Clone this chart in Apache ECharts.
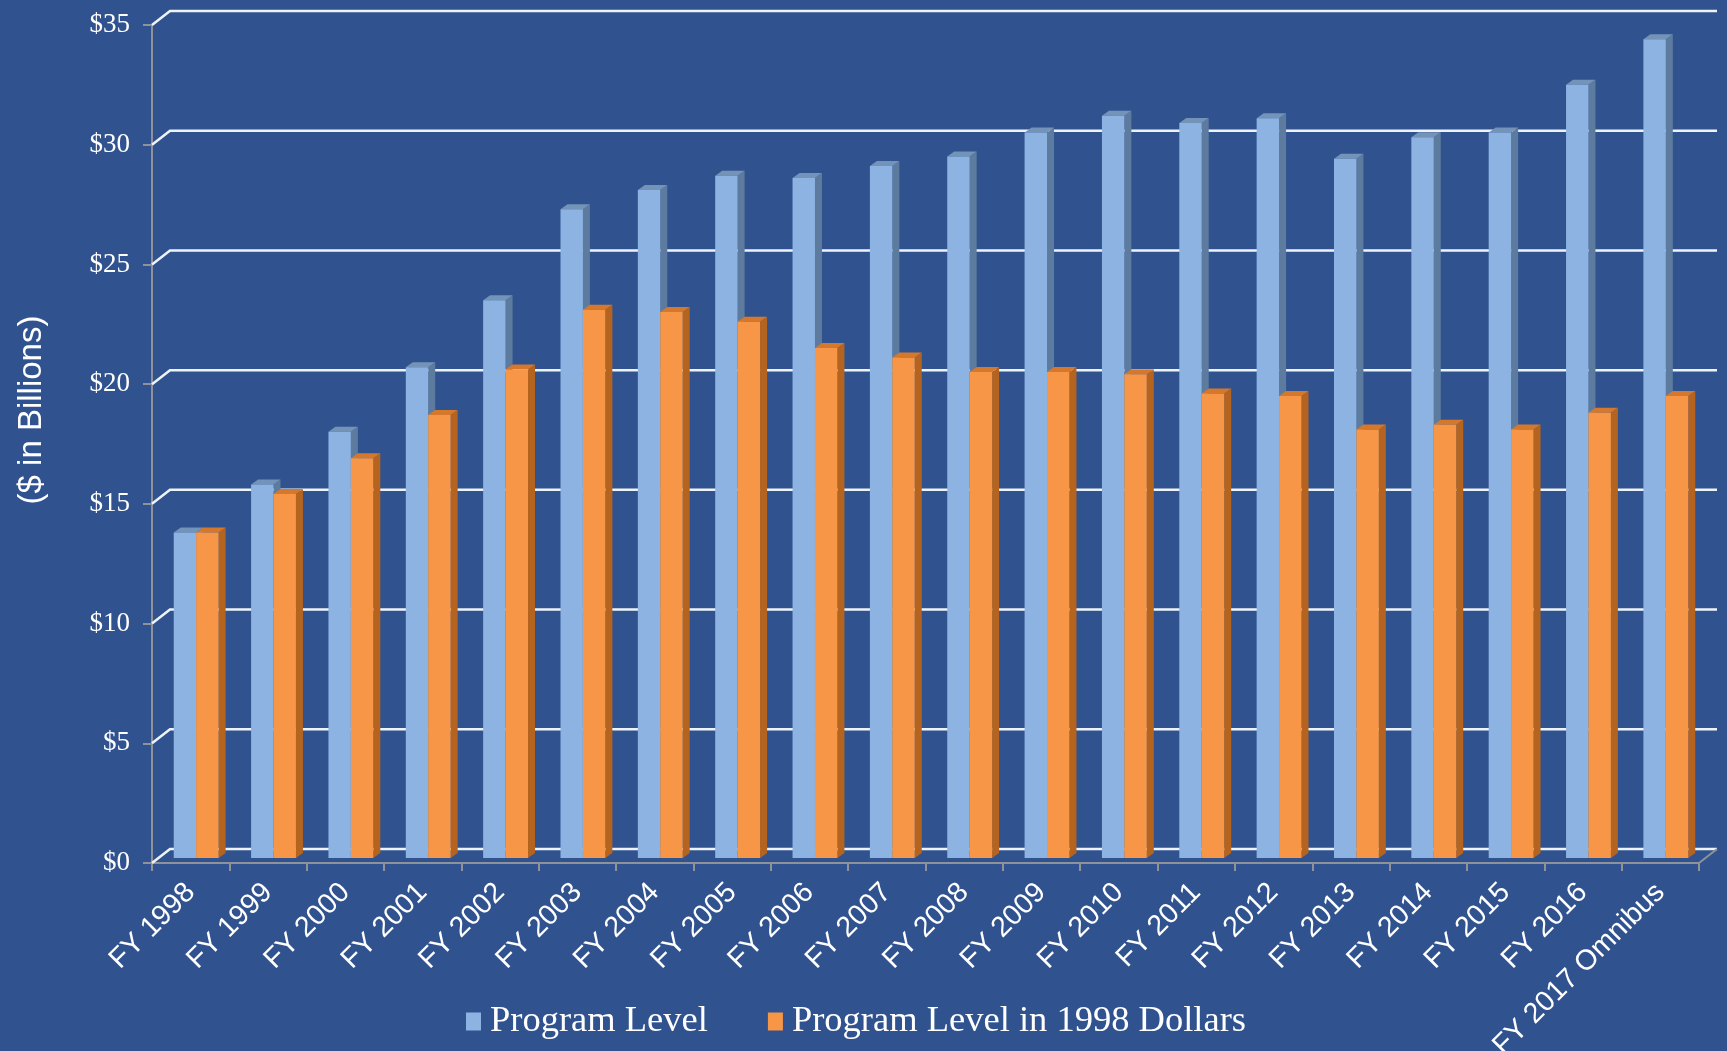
<!DOCTYPE html>
<html>
<head>
<meta charset="utf-8">
<title>Program Level</title>
<script src="https://cdn.jsdelivr.net/npm/echarts@6/dist/echarts.min.js"></script>
<style>
  html, body { margin: 0; padding: 0; background: #30538F; overflow: hidden; }
  #chart { width: 1727px; height: 1051px; }
</style>
</head>
<body>
<div id="chart"></div>
<script>
// Fiscal years shown on the category axis
var categories = ['FY 1998', 'FY 1999', 'FY 2000', 'FY 2001', 'FY 2002', 'FY 2003', 'FY 2004',
  'FY 2005', 'FY 2006', 'FY 2007', 'FY 2008', 'FY 2009', 'FY 2010', 'FY 2011', 'FY 2012',
  'FY 2013', 'FY 2014', 'FY 2015', 'FY 2016', 'FY 2017 Omnibus'];

// $ in billions, nominal
var programLevel = [13.6, 15.6, 17.8, 20.5, 23.3, 27.1, 27.9, 28.5, 28.4, 28.9, 29.3, 30.3,
  31.0, 30.7, 30.9, 29.2, 30.1, 30.3, 32.3, 34.2];

// $ in billions, constant 1998 dollars
var programLevel1998 = [13.6, 15.2, 16.7, 18.5, 20.4, 22.9, 22.8, 22.4, 21.3, 20.9, 20.3, 20.3,
  20.2, 19.4, 19.3, 17.9, 18.1, 17.9, 18.6, 19.3];

// Value axis ticks
var yTicks = [0, 5, 10, 15, 20, 25, 30, 35];

var seriesNames = ['Program Level', 'Program Level in 1998 Dollars'];
var yTitle = '($ in Billions)';

// Depth of the chart box (back wall offset) and of each bar
var WALL_DX = 18, WALL_DY = -14;
var BAR_SHIFT_X = 5.5, BAR_SHIFT_Y = -5;
var BAR_DX = 7, BAR_DY = -5;
var BAR_RATIO = 0.29;

var palette = [
  { front: '#8DB3E2', side: '#5D7B9E', top: '#7393B8' },
  { front: '#F79646', side: '#B4641F', top: '#D6782C' }
];

function wallItem(params, api) {
  var cs = params.coordSys;
  var y = api.coord([0, api.value(1)])[1];
  var children = [{
    type: 'polyline',
    shape: { points: [[cs.x, y], [cs.x + WALL_DX, y + WALL_DY], [cs.x + cs.width + WALL_DX, y + WALL_DY]] },
    style: { stroke: '#EEF3FA', lineWidth: 2.5, fill: null }
  }];
  if (api.value(1) === 0) {
    children.push({
      type: 'line',
      shape: { x1: cs.x + cs.width, y1: y, x2: cs.x + cs.width + WALL_DX, y2: y + WALL_DY },
      style: { stroke: '#8E939B', lineWidth: 2 }
    });
  }
  return { type: 'group', children: children };
}

function barRenderer(s) {
  return function (params, api) {
    var idx = api.value(0);
    var top = api.coord([idx, api.value(1)]);
    var base = api.coord([idx, 0]);
    var bw = api.size([1, 0])[0];
    var w = bw * BAR_RATIO;
    var cx = top[0] + BAR_SHIFT_X;
    var x0 = cx - w + s * w;
    var yT = top[1] + BAR_SHIFT_Y;
    var yB = base[1] + BAR_SHIFT_Y;
    var c = palette[s];
    return {
      type: 'group',
      children: [
        {
          type: 'polygon',
          shape: { points: [[x0 + w, yT], [x0 + w + BAR_DX, yT + BAR_DY], [x0 + w + BAR_DX, yB + BAR_DY], [x0 + w, yB]] },
          style: { fill: c.side }
        },
        {
          type: 'polygon',
          shape: { points: [[x0, yT], [x0 + BAR_DX, yT + BAR_DY], [x0 + w + BAR_DX, yT + BAR_DY], [x0 + w, yT]] },
          style: { fill: c.top }
        },
        {
          type: 'rect',
          shape: { x: x0, y: yT, width: w, height: yB - yT },
          style: { fill: c.front }
        }
      ]
    };
  };
}

function toPairs(arr) {
  return arr.map(function (v, i) { return [i, v]; });
}

var chart = echarts.init(document.getElementById('chart'), null, { renderer: 'canvas' });

chart.setOption({
  backgroundColor: '#30538F',
  animation: false,
  grid: { left: 152, right: 28, top: 25, bottom: 188, containLabel: false, outerBoundsMode: 'none' },
  graphic: [{
    type: 'text',
    x: 32,
    y: 410,
    rotation: Math.PI / 2,
    style: {
      text: yTitle,
      fill: '#FFFFFF',
      font: '33px "Liberation Sans"',
      textAlign: 'center',
      textVerticalAlign: 'middle'
    }
  }],
  legend: {
    data: seriesNames,
    left: 461,
    top: 998,
    icon: 'rect',
    itemWidth: 15,
    itemHeight: 18,
    itemGap: 60,
    textStyle: { color: '#FFFFFF', fontFamily: 'Liberation Serif', fontSize: 36.5, padding: [0, 0, 0, 4] }
  },
  xAxis: {
    type: 'category',
    data: categories,
    axisLine: { show: true, lineStyle: { color: '#8E939B', width: 2 } },
    axisTick: { show: true, length: 8, lineStyle: { color: '#8E939B', width: 2 } },
    axisLabel: {
      rotate: 45,
      margin: 25,
      color: '#FFFFFF',
      fontFamily: 'Liberation Sans',
      fontSize: 28.5
    },
    splitLine: { show: false }
  },
  yAxis: {
    type: 'value',
    min: 0,
    max: 35,
    interval: 5,
    axisLine: { show: true, lineStyle: { color: '#8E939B', width: 2 } },
    axisTick: { show: true, length: 9, lineStyle: { color: '#8E939B', width: 2 } },
    axisLabel: {
      formatter: '${value}',
      margin: 22,
      color: '#FFFFFF',
      fontFamily: 'Liberation Serif',
      fontSize: 27
    },
    splitLine: { show: false }
  },
  series: [
    {
      type: 'custom',
      name: 'walls',
      silent: true,
      z: 1,
      renderItem: wallItem,
      encode: { x: 0, y: 1 },
      data: yTicks.map(function (v) { return [0, v]; })
    },
    {
      type: 'custom',
      name: seriesNames[0],
      z: 3,
      itemStyle: { color: palette[0].front },
      renderItem: barRenderer(0),
      encode: { x: 0, y: 1 },
      data: toPairs(programLevel)
    },
    {
      type: 'custom',
      name: seriesNames[1],
      z: 4,
      itemStyle: { color: palette[1].front },
      renderItem: barRenderer(1),
      encode: { x: 0, y: 1 },
      data: toPairs(programLevel1998)
    }
  ]
});
</script>
</body>
</html>
